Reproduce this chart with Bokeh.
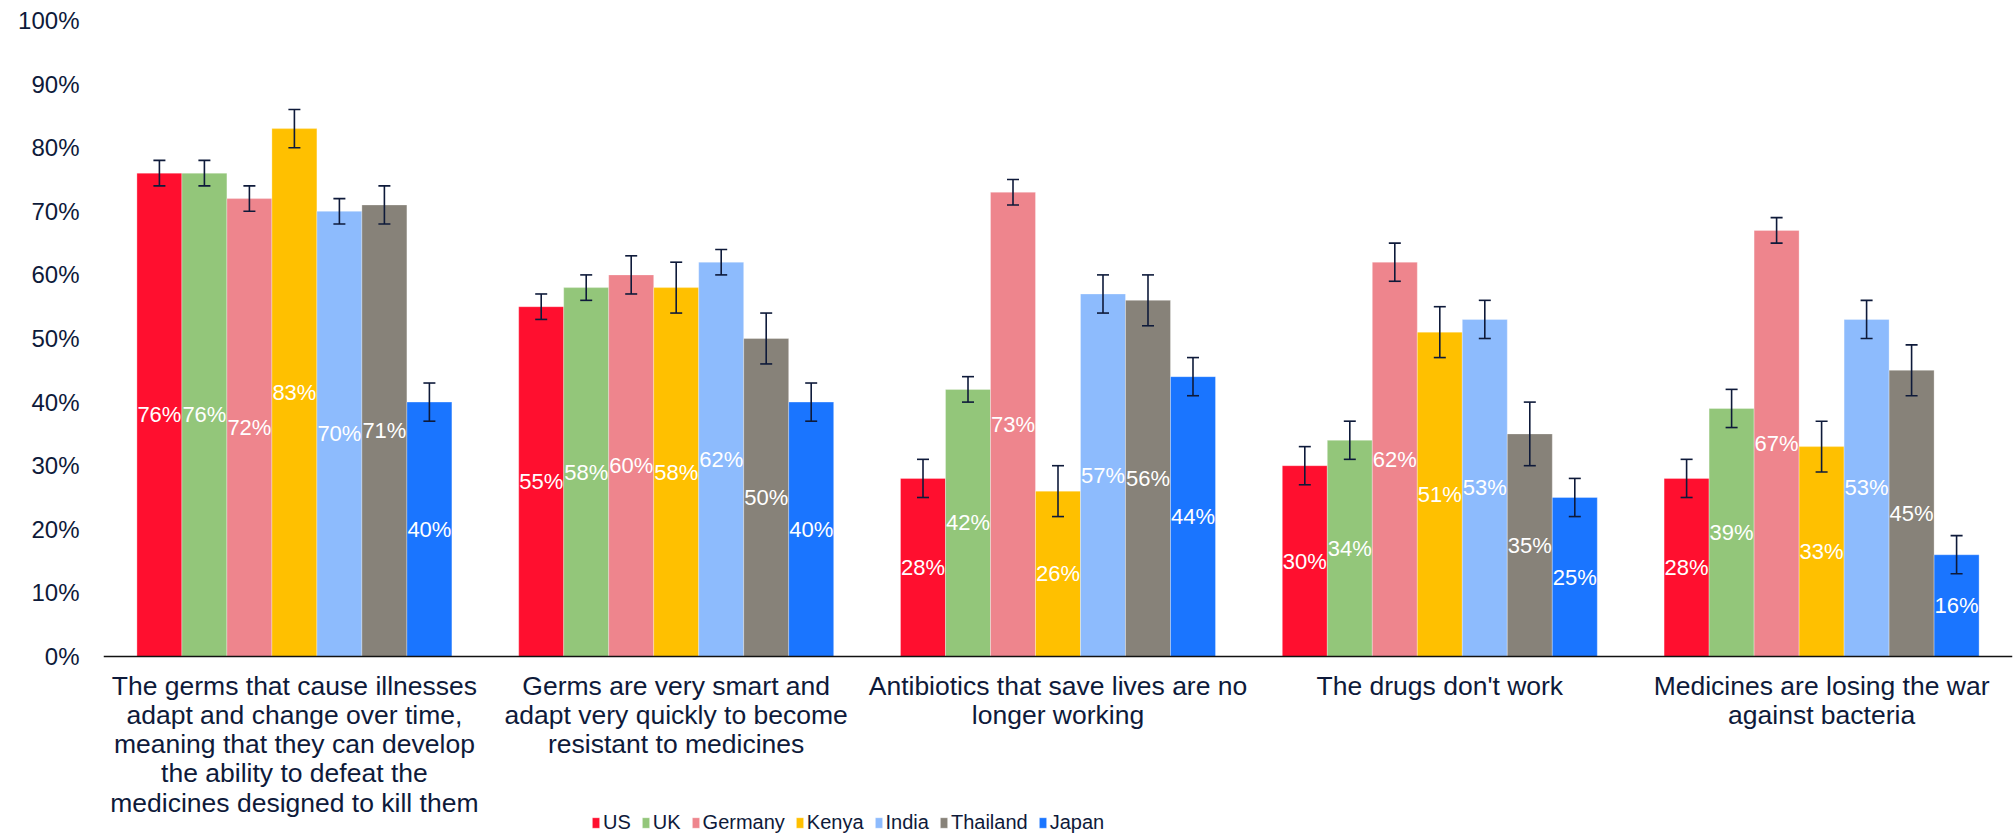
from bokeh.plotting import figure
from bokeh.models import (ColumnDataSource, Whisker, TeeHead, Legend, LegendItem,
                          FixedTicker, NumeralTickFormatter, Range1d, LabelSet)
from bokeh.core.properties import value
from bokeh.embed import file_html
from bokeh.resources import INLINE

categories = [
    "The germs that cause illnesses\nadapt and change over time,\nmeaning that they can develop\nthe ability to defeat the\nmedicines designed to kill them",
    "Germs are very smart and\nadapt very quickly to become\nresistant to medicines",
    "Antibiotics that save lives are no\nlonger working",
    "The drugs don't work",
    "Medicines are losing the war\nagainst bacteria",
]
countries = ["US", "UK", "Germany", "Kenya", "India", "Thailand", "Japan"]
colors = ["#FF0F2F", "#93C67A", "#EE858D", "#FFC000", "#8DBBFD", "#878279", "#1A75FF"]

us = [76, 55, 28, 30, 28]
uk = [76, 58, 42, 34, 39]
germany = [72, 60, 73, 62, 67]
kenya = [83, 58, 26, 51, 33]
india = [70, 62, 57, 53, 53]
thailand = [71, 50, 56, 35, 45]
japan = [40, 40, 44, 25, 16]

us_err = [2, 2, 3, 3, 3]
uk_err = [2, 2, 2, 3, 3]
germany_err = [2, 3, 2, 3, 2]
kenya_err = [3, 4, 4, 4, 4]
india_err = [2, 2, 3, 3, 3]
thailand_err = [3, 4, 4, 5, 4]
japan_err = [3, 3, 3, 3, 3]

series = [us, uk, germany, kenya, india, thailand, japan]
errors = [us_err, uk_err, germany_err, kenya_err, india_err, thailand_err, japan_err]

TEXT = "#0E1A3A"
FONT = "Liberation Sans"

# frame spans the full height below the top border; y=0 sits 180px above the bottom
p = figure(width=2015, height=836, output_backend="svg", toolbar_location=None,
           x_range=Range1d(-0.5, 4.5), y_range=Range1d(-180 / 636, 1),
           min_border_left=103, min_border_right=3, min_border_top=20, min_border_bottom=0)
p.outline_line_color = None
p.xgrid.grid_line_color = None
p.ygrid.grid_line_color = None
p.background_fill_color = "white"

group = 0.825
bw = group / len(countries)

items = []
for i, (name, vals, errs, col) in enumerate(zip(countries, series, errors, colors)):
    off = (i - (len(countries) - 1) / 2) * bw
    src = ColumnDataSource(dict(
        x=[k + off for k in range(len(categories))],
        top=[v / 100 for v in vals],
        mid=[v / 200 for v in vals],
        lbl=[f"{v}%" for v in vals],
        upper=[(v + e) / 100 for v, e in zip(vals, errs)],
        lower=[(v - e) / 100 for v, e in zip(vals, errs)],
    ))
    r = p.vbar(x="x", top="top", bottom=0, width=bw, source=src, fill_color=col,
               line_color="white", line_width=0.5, line_alpha=0.6)
    items.append(LegendItem(label=name, renderers=[r]))
    labels = LabelSet(x="x", y="mid", text="lbl", source=src, text_color="white",
                      text_font=value(FONT), text_font_size="22px",
                      text_align="center", text_baseline="middle")
    p.add_layout(labels)
    w = Whisker(base="x", upper="upper", lower="lower", source=src, level="annotation",
                line_color=TEXT, line_width=1.6,
                upper_head=TeeHead(size=12, line_color=TEXT, line_width=1.6),
                lower_head=TeeHead(size=12, line_color=TEXT, line_width=1.6))
    p.add_layout(w)

p.yaxis.ticker = FixedTicker(ticks=[i / 10 for i in range(11)])
p.yaxis.formatter = NumeralTickFormatter(format="0%")
p.yaxis.axis_line_color = None
p.yaxis.major_tick_line_color = None
p.yaxis.minor_tick_line_color = None
p.yaxis.major_label_standoff = 18
p.yaxis.major_label_text_font = FONT
p.yaxis.major_label_text_font_size = "24px"
p.yaxis.major_label_text_color = TEXT

p.xaxis.fixed_location = 0
p.xaxis.ticker = FixedTicker(ticks=list(range(len(categories))))
p.xaxis.major_label_overrides = {i: c for i, c in enumerate(categories)}
p.xaxis.axis_line_color = "#111111"
p.xaxis.axis_line_width = 1.6
p.xaxis.major_tick_line_color = None
p.xaxis.minor_tick_line_color = None
p.xaxis.major_label_standoff = 8
p.xaxis.major_label_text_font = FONT
p.xaxis.major_label_text_font_size = "26.5px"
p.xaxis.major_label_text_line_height = 0.975
p.xaxis.major_label_text_color = TEXT

legend = Legend(items=items, orientation="horizontal", location=(488, 2),
                glyph_width=9, glyph_height=13, label_standoff=3, spacing=10,
                padding=0, margin=0, border_line_color=None, background_fill_alpha=0,
                label_text_font=FONT, label_text_font_size="20px",
                label_text_color=TEXT)
p.add_layout(legend, "center")

open("out.html", "w").write(file_html(p, INLINE))
